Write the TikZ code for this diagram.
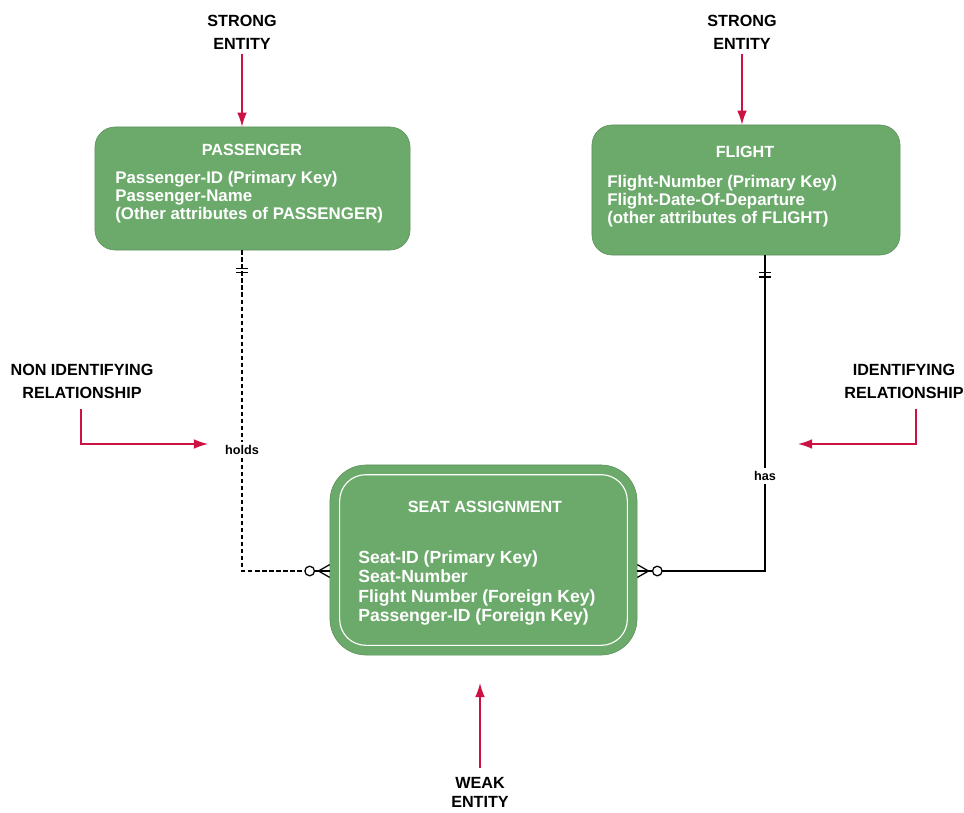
\documentclass[tikz,border=0pt]{standalone}
\usepackage{fontspec}
\setmainfont{Liberation Sans}
\usepackage{tikz}
\usetikzlibrary{calc,positioning,arrows.meta}
\usepackage{xcolor}
\definecolor{boxgreen}{RGB}{108,170,108}
\definecolor{pointred}{RGB}{204,18,66}
\tikzset{
  entity/.style={
    draw=boxgreen!85!black,
    rectangle,
    rounded corners=5mm,
    fill=boxgreen,
    line width=0.4pt,
  },
  boxtitle/.style={text=white, font=\bfseries\fontsize{11.5}{13}\selectfont},
  boxattr/.style={
    text=white,
    align=left,
    anchor=north west,
    inner sep=0pt,
    font=\bfseries\fontsize{12}{12.8}\selectfont,
  },
  callout/.style={align=center, font=\bfseries\fontsize{11.5}{16.4}\selectfont},
  reltag/.style={font=\bfseries\fontsize{9}{10}\selectfont, inner sep=2pt},
  pointer/.style={draw=pointred, line width=1pt, -{Latex[length=3.5mm,width=2.4mm]}},
  rel/.style={line width=0.9pt},
}

\begin{document}
\begin{tikzpicture}[x=0.025cm,y=-0.025cm]
  \useasboundingbox (0,0) rectangle (964,813);
  \clip (0,0) rectangle (964,813);

  % entities
  \node[entity, minimum width=7.875cm, minimum height=3.075cm] (PASS) at (252.5,188.5) {};
  \node[boxtitle] (PASStitle) at (252,150) {PASSENGER};
  \node[boxattr] (PASSattr) at (115,171)
    {Passenger-ID (Primary Key)\\Passenger-Name\\(Other attributes of PASSENGER)};

  \node[entity, minimum width=7.7cm, minimum height=3.25cm] (FLIGHT) at (746,190) {};
  \node[boxtitle] (FLIGHTtitle) at (745,152) {FLIGHT};
  \node[boxattr] (FLIGHTattr) at (607,175)
    {Flight-Number (Primary Key)\\Flight-Date-Of-Departure\\(other attributes of FLIGHT)};

  \node[entity, minimum width=7.675cm, minimum height=4.75cm, rounded corners=9mm] (SEAT) at (483.5,560) {};
  \draw[white, line width=0.8pt, rounded corners=6.5mm]
    ($(SEAT.south west)+(10,-10)$) rectangle ($(SEAT.north east)+(-10,10)$);
  \node[boxtitle] (SEATtitle) at (485,507) {SEAT ASSIGNMENT};
  \node[boxattr, font=\bfseries\fontsize{12.5}{13.9}\selectfont] (SEATattr) at (358,550)
    {Seat-ID (Primary Key)\\Seat-Number\\Flight Number (Foreign Key)\\Passenger-ID (Foreign Key)};

  % relationships
  \node[reltag] (holds) at (242,450) {holds};
  \node[reltag] (has) at (765,476) {has};
  \coordinate (topL) at (PASS.south -| holds);
  \coordinate (topR) at (FLIGHT.south -| has);
  \coordinate (footL) at ([yshift=-2.75mm]SEAT.west);
  \coordinate (footR) at ([yshift=-2.75mm]SEAT.east);

  \draw[rel, densely dashed] (topL) -- (holds);
  \draw[rel, densely dashed] (holds) |- ([xshift=-6.2mm]footL);
  \draw[rel] ([xshift=-3.8mm]footL) -- (footL);
  \draw[rel] (topR) -- (has);
  \draw[rel] (has) |- ([xshift=6.2mm]footR);
  \draw[rel] ([xshift=3.8mm]footR) -- (footR);

  % one and only one
  \draw[rel] ([xshift=-1.5mm,yshift=-4.5mm]topL) -- ++(3mm,0)
             ([xshift=-1.5mm,yshift=-5.6mm]topL) -- ++(3mm,0);
  \draw[rel] ([xshift=-1.5mm,yshift=-4.3mm]topR) -- ++(3mm,0)
             ([xshift=-1.5mm,yshift=-5.4mm]topR) -- ++(3mm,0);

  % zero or many
  \draw[rel] ([xshift=-5mm]footL) circle (1.2mm);
  \draw[rel] ([xshift=-2.8mm]footL) -- ([yshift=1.6mm]footL)
             ([xshift=-2.8mm]footL) -- ([yshift=-1.6mm]footL);
  \draw[rel] ([xshift=5mm]footR) circle (1.2mm);
  \draw[rel] ([xshift=2.8mm]footR) -- ([yshift=1.6mm]footR)
             ([xshift=2.8mm]footR) -- ([yshift=-1.6mm]footR);

  % callouts
  \node[callout] (strongL) at (242,32) {STRONG\\ENTITY};
  \node[callout] (strongR) at (742,32) {STRONG\\ENTITY};
  \node[callout] (nonid) at (82,381) {NON IDENTIFYING\\RELATIONSHIP};
  \node[callout] (idrel) at (904,381) {IDENTIFYING\\RELATIONSHIP};
  \node[callout, font=\bfseries\fontsize{11.5}{13.5}\selectfont] (weak) at (480,792) {WEAK\\ENTITY};
  \coordinate (nonidtip) at (208,444);
  \coordinate (idtip) at (798,444);
  \coordinate (weaktip) at (480,683);

  \draw[pointer] (strongL.south) -- (PASS.north -| strongL);
  \draw[pointer] (strongR.south) -- (FLIGHT.north -| strongR);
  \draw[pointer, shorten <=1.5mm] ([xshift=-0.2mm]nonid.south) |- (nonidtip);
  \draw[pointer, shorten <=1.5mm] ([xshift=3mm]idrel.south) |- (idtip);
  \draw[pointer, shorten <=1mm] (weak.north) -- (weaktip);
\end{tikzpicture}
\end{document}
